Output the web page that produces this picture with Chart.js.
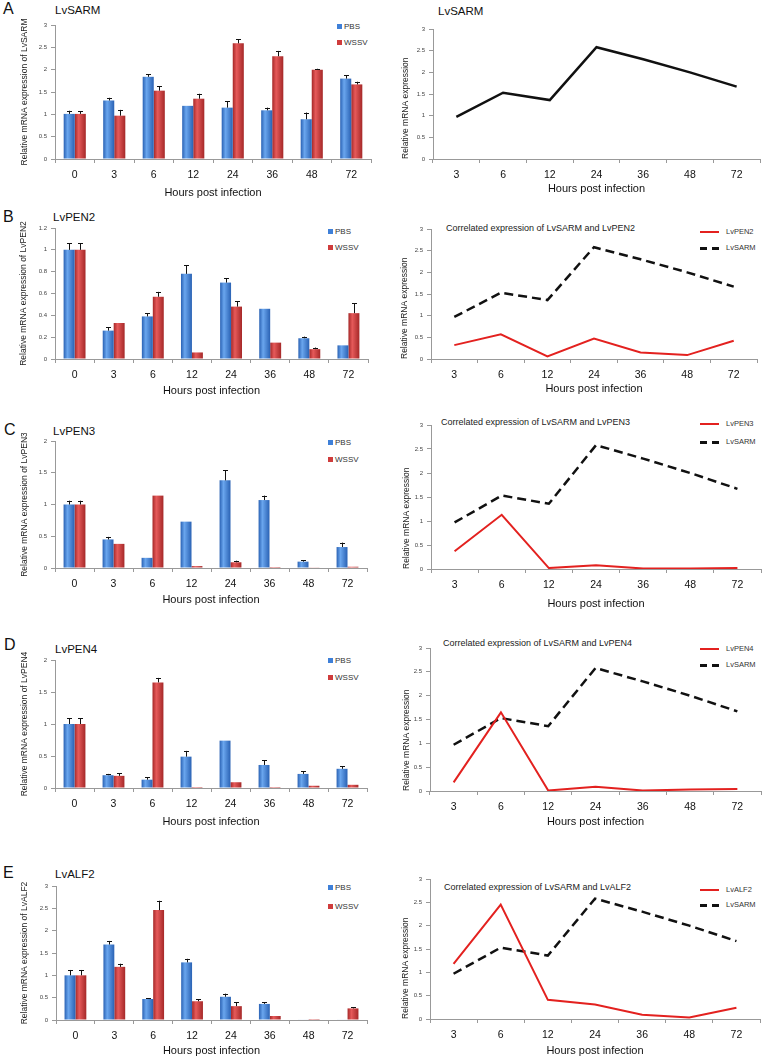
<!DOCTYPE html>
<html><head><meta charset="utf-8">
<script src="https://cdn.jsdelivr.net/npm/chart.js@4/dist/chart.umd.min.js"></script>
<style>
html,body{margin:0;padding:0;background:#fff;}
body{width:766px;height:1061px;position:relative;overflow:hidden;font-family:"Liberation Sans",Arial,Helvetica,sans-serif;}
canvas{position:absolute;}
.t{position:absolute;white-space:nowrap;transform:translateY(-50%);line-height:1;color:#111;}
.letter{font-size:16px;}
.ptitle{font-size:11.5px;}
.ctitle{font-size:9px;color:#222;}
.lg{font-size:8px;color:#333;}
.lg i{display:inline-block;width:5px;height:5px;margin-right:2px;vertical-align:-0px;}
.ll{font-size:7.5px;color:#333;}
.seg{position:absolute;}
</style>
</head><body>

<div class="t letter" style="left:3px;top:9px">A</div>
<div class="t letter" style="left:3px;top:217px">B</div>
<div class="t letter" style="left:4px;top:430px">C</div>
<div class="t letter" style="left:4px;top:645px">D</div>
<div class="t letter" style="left:3px;top:873px">E</div>

<div class="t ptitle" style="left:55px;top:11px">LvSARM</div>
<div class="t ptitle" style="left:438px;top:12px">LvSARM</div>
<div class="t ptitle" style="left:53px;top:218px">LvPEN2</div>
<div class="t ptitle" style="left:53px;top:432px">LvPEN3</div>
<div class="t ptitle" style="left:55px;top:650px">LvPEN4</div>
<div class="t ptitle" style="left:55px;top:875px">LvALF2</div>

<div class="t ctitle" style="left:446px;top:228px">Correlated expression of LvSARM and LvPEN2</div>
<div class="t ctitle" style="left:441px;top:422px">Correlated expression of LvSARM and LvPEN3</div>
<div class="t ctitle" style="left:443px;top:643px">Correlated expression of LvSARM and LvPEN4</div>
<div class="t ctitle" style="left:444px;top:887px">Correlated expression of LvSARM and LvALF2</div>

<div id="legends"></div>

<script>
// ---------------- DATA ----------------
const barHours = ['0','3','6','12','24','36','48','72'];
const lineHours = ['3','6','12','24','36','48','72'];

const sarmPBS     = [1.01, 1.31, 1.84, 1.19, 1.15, 1.09, 0.89, 1.80];
const sarmPBSErr  = [0.07, 0.06, 0.06, 0.01, 0.14, 0.06, 0.15, 0.07];
const sarmWSSV    = [1.01, 0.97, 1.53, 1.35, 2.59, 2.30, 2.00, 1.67];
const sarmWSSVErr = [0.06, 0.13, 0.10, 0.11, 0.09, 0.12, 0.02, 0.06];

const pen2PBS     = [1.00, 0.26, 0.39, 0.78, 0.70, 0.46, 0.19, 0.125];
const pen2PBSErr  = [0.06, 0.03, 0.03, 0.08, 0.04, 0.00, 0.015, 0.005];
const pen2WSSV    = [1.00, 0.33, 0.57, 0.06, 0.48, 0.15, 0.09, 0.42];
const pen2WSSVErr = [0.06, 0.003, 0.045, 0.003, 0.05, 0.003, 0.015, 0.09];

const pen3PBS     = [1.00, 0.45, 0.16, 0.73, 1.38, 1.07, 0.10, 0.33];
const pen3PBSErr  = [0.06, 0.04, 0.005, 0.01, 0.16, 0.07, 0.025, 0.07];
const pen3WSSV    = [1.00, 0.38, 1.14, 0.03, 0.09, 0.015, 0.01, 0.02];
const pen3WSSVErr = [0.06, 0.01, 0.01, 0.003, 0.025, 0.003, 0.002, 0.003];

const pen4PBS     = [1.00, 0.20, 0.13, 0.49, 0.74, 0.36, 0.22, 0.30];
const pen4PBSErr  = [0.09, 0.02, 0.04, 0.09, 0.01, 0.07, 0.04, 0.04];
const pen4WSSV    = [1.00, 0.19, 1.65, 0.015, 0.09, 0.015, 0.035, 0.05];
const pen4WSSVErr = [0.09, 0.04, 0.07, 0.002, 0.01, 0.002, 0.005, 0.005];

const alf2PBS     = [1.00, 1.69, 0.47, 1.29, 0.52, 0.36, 0.01, 0.01];
const alf2PBSErr  = [0.12, 0.08, 0.02, 0.08, 0.07, 0.04, 0.003, 0.003];
const alf2WSSV    = [1.00, 1.19, 2.46, 0.42, 0.31, 0.09, 0.02, 0.26];
const alf2WSSVErr = [0.12, 0.07, 0.21, 0.04, 0.09, 0.01, 0.003, 0.02];

const sarmLine = [0.97, 1.53, 1.36, 2.58, 2.30, 2.00, 1.67];
const pen2Line = [0.32, 0.57, 0.06, 0.47, 0.15, 0.09, 0.42];
const pen3Line = [0.37, 1.13, 0.02, 0.08, 0.01, 0.01, 0.02];
const pen4Line = [0.18, 1.65, 0.01, 0.09, 0.01, 0.03, 0.04];
const alf2Line = [1.18, 2.45, 0.41, 0.31, 0.09, 0.03, 0.24];

// ---------------- STYLE / LAYOUT ----------------
const FONT = '"Liberation Sans", Arial, Helvetica, sans-serif';
Chart.defaults.font.family = FONT;
const BAR_PCT = 0.56;
const AXIS_COLOR = '#999';
const BLUE = {base:'#3f80d8', light:'#6aa6ee', dark:'#2a62b4'};
const RED  = {base:'#cf3c3c', light:'#e65a5a', dark:'#a52828'};

const errorBars = {
  id:'errorBars',
  afterDatasetsDraw(chart){
    const ctx = chart.ctx, ys = chart.scales.y;
    chart.data.datasets.forEach((ds, di) => {
      if (!ds.errors) return;
      const meta = chart.getDatasetMeta(di);
      meta.data.forEach((el, i) => {
        const e = ds.errors[i];
        if (!e) return;
        const top = ys.getPixelForValue(ds.data[i] + e);
        if (el.y - top < 0.8) return;
        const x = Math.round(el.x) + 0.5;
        ctx.save();
        ctx.strokeStyle = '#111'; ctx.lineWidth = 1;
        ctx.beginPath();
        ctx.moveTo(x, el.y); ctx.lineTo(x, top);
        ctx.moveTo(x - 2.5, Math.round(top) + 0.5); ctx.lineTo(x + 2.5, Math.round(top) + 0.5);
        ctx.stroke();
        ctx.restore();
      });
    });
  }
};

function barFill(col, dsIndex){
  return (c) => {
    const xs = c.chart.scales.x;
    if (c.type !== 'data' || !xs) return col.base;
    const p0 = xs.getPixelForValue(0), p1 = xs.getPixelForValue(1);
    const cx = xs.getPixelForValue(c.dataIndex);
    const bw = (p1 - p0) * BAR_PCT / 2;
    const x0 = dsIndex === 0 ? cx - bw : cx;
    if (!isFinite(x0) || !isFinite(bw) || bw <= 0) return col.base;
    const g = c.chart.ctx.createLinearGradient(x0, 0, x0 + bw, 0);
    g.addColorStop(0, col.dark);
    g.addColorStop(0.35, col.light);
    g.addColorStop(1, col.dark);
    return g;
  };
}

function makeCanvas(b){
  const left = Math.round(b.yTitleX - 5.1);
  const top = b.plotT - 8;
  const right = b.plotR + 5;
  const xH = Math.round(b.xTitleY + 6.6 - b.plotB);
  const bottom = b.plotB + xH;
  const c = document.createElement('canvas');
  c.width = right - left; c.height = bottom - top;
  c.style.left = left + 'px'; c.style.top = top + 'px';
  c.style.width = (right - left) + 'px'; c.style.height = (bottom - top) + 'px';
  document.body.appendChild(c);
  return {c, yW: b.plotL - left, xH};
}

const fmtTick = (v) => String(Math.round(v * 100) / 100);

function scales(geo, yMax, step, yTitle, titleAlign){
  return {
    x: {
      type:'category', offset:true,
      grid:{offset:true, drawOnChartArea:false, tickLength:4, color:AXIS_COLOR},
      border:{color:AXIS_COLOR},
      ticks:{font:{size:10.5}, color:'#111', padding:6, maxRotation:0, autoSkip:false},
      title:{display:true, text:'Hours post infection', font:{size:11}, color:'#111', padding:0},
      afterFit(s){ s.height = geo.xH; s.paddingLeft = 0; s.paddingRight = 0; }
    },
    y: {
      min:0, max:yMax,
      grid:{drawOnChartArea:false, tickLength:4, color:AXIS_COLOR},
      border:{color:AXIS_COLOR},
      ticks:{stepSize:step, font:{size:6}, color:'#444', padding:4, callback:fmtTick},
      title:{display:true, text:yTitle, font:{size:8.5}, color:'#222', padding:0, align:titleAlign},
      afterFit(s){ s.width = geo.yW; s.paddingTop = 0; s.paddingBottom = 0; }
    }
  };
}

function barChart(gene, pbs, pbsErr, wssv, wssvErr, yMax, step, box){
  const geo = makeCanvas(box);
  new Chart(geo.c, {
    type:'bar',
    data:{labels:barHours, datasets:[
      {label:'PBS', data:pbs, errors:pbsErr, backgroundColor:barFill(BLUE,0), categoryPercentage:BAR_PCT, barPercentage:1},
      {label:'WSSV', data:wssv, errors:wssvErr, backgroundColor:barFill(RED,1), categoryPercentage:BAR_PCT, barPercentage:1}
    ]},
    options:{
      responsive:false, animation:false, devicePixelRatio:1,
      layout:{padding:{top:8, right:5, left:0, bottom:0}},
      plugins:{legend:{display:false}, tooltip:{enabled:false}},
      scales:scales(geo, yMax, step, 'Relative mRNA expression of ' + gene, 'center')
    },
    plugins:[errorBars]
  });
}

function lineChart(gene, geneLine, box){
  const geo = makeCanvas(box);
  const ds = [];
  if (geneLine) ds.push({label:gene, data:geneLine, borderColor:'#e3211f', borderWidth:2, pointRadius:0, tension:0, fill:false});
  ds.push({label:'LvSARM', data:sarmLine, borderColor:'#111', borderWidth:2.5, borderDash: geneLine ? [9,5] : [], pointRadius:0, tension:0, fill:false});
  new Chart(geo.c, {
    type:'line',
    data:{labels:lineHours, datasets:ds},
    options:{
      responsive:false, animation:false, devicePixelRatio:1,
      layout:{padding:{top:8, right:5, left:0, bottom:0}},
      plugins:{legend:{display:false}, tooltip:{enabled:false}},
      scales:scales(geo, 3, 0.5, 'Relative mRNA expression', 'start')
    }
  });
}

// Left column: bar charts
barChart('LvSARM', sarmPBS, sarmPBSErr, sarmWSSV, sarmWSSVErr, 3, 0.5,
  {plotL:55, plotR:371, plotT:25, plotB:159, yTitleX:25, xTitleY:193});
barChart('LvPEN2', pen2PBS, pen2PBSErr, pen2WSSV, pen2WSSVErr, 1.2, 0.2,
  {plotL:55, plotR:368, plotT:228, plotB:359, yTitleX:24, xTitleY:391});
barChart('LvPEN3', pen3PBS, pen3PBSErr, pen3WSSV, pen3WSSVErr, 2, 0.5,
  {plotL:55, plotR:367, plotT:441, plotB:568, yTitleX:25, xTitleY:600});
barChart('LvPEN4', pen4PBS, pen4PBSErr, pen4WSSV, pen4WSSVErr, 2, 0.5,
  {plotL:55, plotR:367, plotT:660, plotB:788, yTitleX:25, xTitleY:822});
barChart('LvALF2', alf2PBS, alf2PBSErr, alf2WSSV, alf2WSSVErr, 3, 0.5,
  {plotL:56, plotR:367, plotT:886, plotB:1020, yTitleX:25, xTitleY:1051});

// Right column: line charts
lineChart('LvSARM', null, {plotL:433, plotR:760, plotT:29, plotB:159, yTitleX:406, xTitleY:189});
lineChart('LvPEN2', pen2Line, {plotL:431, plotR:757, plotT:229, plotB:359, yTitleX:405, xTitleY:389});
lineChart('LvPEN3', pen3Line, {plotL:431, plotR:761, plotT:425, plotB:569, yTitleX:407, xTitleY:604});
lineChart('LvPEN4', pen4Line, {plotL:430, plotR:761, plotT:648, plotB:791, yTitleX:407, xTitleY:822});
lineChart('LvALF2', alf2Line, {plotL:430, plotR:760, plotT:879, plotB:1019, yTitleX:406, xTitleY:1051});

// Legends (HTML)
const L = document.getElementById('legends');
function barLegend(x, y1, y2){
  L.insertAdjacentHTML('beforeend',
    `<div class="t lg" style="left:${x}px;top:${y1}px"><i style="background:${BLUE.base}"></i>PBS</div>` +
    `<div class="t lg" style="left:${x}px;top:${y2}px"><i style="background:${RED.base}"></i>WSSV</div>`);
}
function lineLegend(gene, y1, y2){
  L.insertAdjacentHTML('beforeend',
    `<div class="seg" style="left:700px;top:${y1-1}px;width:19px;height:2px;background:#e3211f"></div>` +
    `<div class="t ll" style="left:726px;top:${y1}px">${gene}</div>` +
    `<div class="seg" style="left:700px;top:${y2-1}px;width:7px;height:2.5px;background:#111"></div>` +
    `<div class="seg" style="left:712px;top:${y2-1}px;width:7px;height:2.5px;background:#111"></div>` +
    `<div class="t ll" style="left:726px;top:${y2}px">LvSARM</div>`);
}
barLegend(337, 27, 43);
barLegend(328, 232, 248);
barLegend(328, 443, 460);
barLegend(328, 661, 678);
barLegend(328, 888, 907);
lineLegend('LvPEN2', 232, 248);
lineLegend('LvPEN3', 424, 442);
lineLegend('LvPEN4', 649, 665);
lineLegend('LvALF2', 890, 905);
</script>
</body></html>
